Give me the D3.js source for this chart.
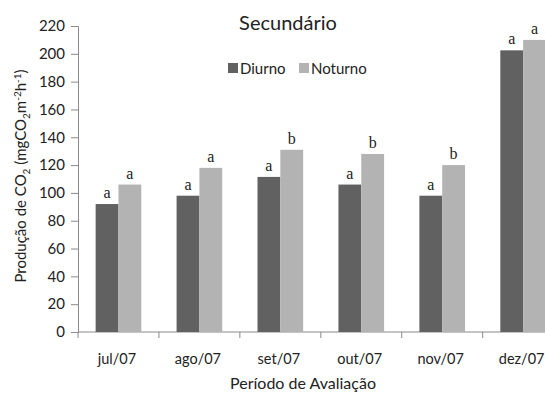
<!DOCTYPE html>
<html>
<head>
<meta charset="utf-8">
<script src="https://cdn.jsdelivr.net/npm/d3@7"></script>
<style>
  html, body { margin: 0; padding: 0; background: #fff; overflow: hidden; }
  svg { display: block; font-family: Lato, "Open Sans", sans-serif; }
</style>
</head>
<body>
<svg id="chart" width="545" height="394"></svg>
<script>
// Monthly CO2 production, secondary forest site
const months = ["jul/07", "ago/07", "set/07", "out/07", "nov/07", "dez/07"];
const diurno = [92, 98, 111.5, 106, 98, 202.5];
const noturno = [106, 118, 131, 128, 120, 210];
const diurnoLetters = ["a", "a", "a", "a", "a", "a"];
const noturnoLetters = ["a", "a", "b", "b", "b", "a"];
const seriesNames = ["Diurno", "Noturno"];
const seriesColors = ["#616161", "#b3b3b3"];
const yTicks = [0, 20, 40, 60, 80, 100, 120, 140, 160, 180, 200, 220];

const svg = d3.select("#chart");
const axisColor = "#8a8a8a";
const textColor = "#222";

const plot = { left: 78, right: 563.6, top: 26, bottom: 332 };

const x = d3.scaleBand().domain(months).range([plot.left, plot.right])
  .paddingInner(0.436).paddingOuter(0.218);
const sub = d3.scaleBand().domain(seriesNames).range([0, x.bandwidth()]);
const y = d3.scaleLinear().domain([0, 220]).range([plot.bottom, plot.top]);

// Y axis
const yAxis = svg.append("g").attr("transform", `translate(${plot.left},0)`)
  .call(d3.axisLeft(y).tickValues(yTicks).tickSize(7).tickPadding(6));
yAxis.select(".domain").attr("stroke", axisColor);
yAxis.selectAll(".tick line").attr("stroke", axisColor);
yAxis.selectAll(".tick text").attr("fill", textColor)
  .style("font-size", "15px").style("font-family", "Lato, sans-serif");

// X axis: baseline with ticks between categories
svg.append("line").attr("x1", plot.left).attr("x2", plot.right)
  .attr("y1", plot.bottom).attr("y2", plot.bottom).attr("stroke", axisColor);
const step = x.step();
d3.range(months.length + 1).forEach(i => {
  svg.append("line")
    .attr("x1", plot.left + i * step).attr("x2", plot.left + i * step)
    .attr("y1", plot.bottom).attr("y2", plot.bottom + 6).attr("stroke", axisColor);
});
svg.append("g").selectAll("text").data(months).join("text")
  .attr("x", d => x(d) + x.bandwidth() / 2 - 1.5)
  .attr("y", 364)
  .attr("text-anchor", "middle")
  .attr("fill", textColor)
  .style("font-size", "14.5px")
  .text(d => d);

// Bars
const rows = months.map((m, i) => ({
  month: m,
  values: [
    { series: "Diurno", value: diurno[i], letter: diurnoLetters[i] },
    { series: "Noturno", value: noturno[i], letter: noturnoLetters[i] }
  ]
}));
const colorOf = d3.scaleOrdinal().domain(seriesNames).range(seriesColors);

const groups = svg.append("g").selectAll("g").data(rows).join("g")
  .attr("transform", d => `translate(${x(d.month)},0)`);
groups.selectAll("rect").data(d => d.values).join("rect")
  .attr("x", d => sub(d.series))
  .attr("y", d => y(d.value))
  .attr("width", sub.bandwidth())
  .attr("height", d => y(0) - y(d.value))
  .attr("fill", d => colorOf(d.series));
groups.selectAll("text").data(d => d.values).join("text")
  .attr("x", d => sub(d.series) + sub.bandwidth() / 2)
  .attr("y", d => y(d.value) - 6)
  .attr("text-anchor", "middle")
  .attr("fill", textColor)
  .style("font-size", "16px")
  .style("font-family", "'Liberation Serif', serif")
  .text(d => d.letter);

// Title
svg.append("text").attr("x", 288).attr("y", 30)
  .attr("text-anchor", "middle").attr("fill", textColor)
  .style("font-size", "20px").text("Secundário");

// Legend
const legendPos = [228, 299];
seriesNames.forEach((name, i) => {
  svg.append("rect").attr("x", legendPos[i]).attr("y", 63)
    .attr("width", 10).attr("height", 10).attr("fill", seriesColors[i]);
  svg.append("text").attr("x", legendPos[i] + 12).attr("y", 74)
    .attr("fill", textColor).style("font-size", "15px").text(name);
});

// Axis titles
const yTitle = svg.append("text")
  .attr("transform", "translate(26,176) rotate(-90)")
  .attr("text-anchor", "middle").attr("fill", textColor)
  .style("font-size", "15px");
yTitle.append("tspan").text("Produção de CO");
yTitle.append("tspan").attr("dy", 4).style("font-size", "10px").text("2");
yTitle.append("tspan").attr("dy", -4).text(" (mgCO");
yTitle.append("tspan").attr("dy", 4).style("font-size", "10px").text("2");
yTitle.append("tspan").attr("dy", -4).text("m");
yTitle.append("tspan").attr("dy", -5).style("font-size", "10px").text("-2");
yTitle.append("tspan").attr("dy", 5).text("h");
yTitle.append("tspan").attr("dy", -5).style("font-size", "10px").text("-1");
yTitle.append("tspan").attr("dy", 5).text(")");

svg.append("text").attr("x", 303).attr("y", 389)
  .attr("text-anchor", "middle").attr("fill", textColor)
  .style("font-size", "16px").text("Período de Avaliação");
</script>
</body>
</html>
